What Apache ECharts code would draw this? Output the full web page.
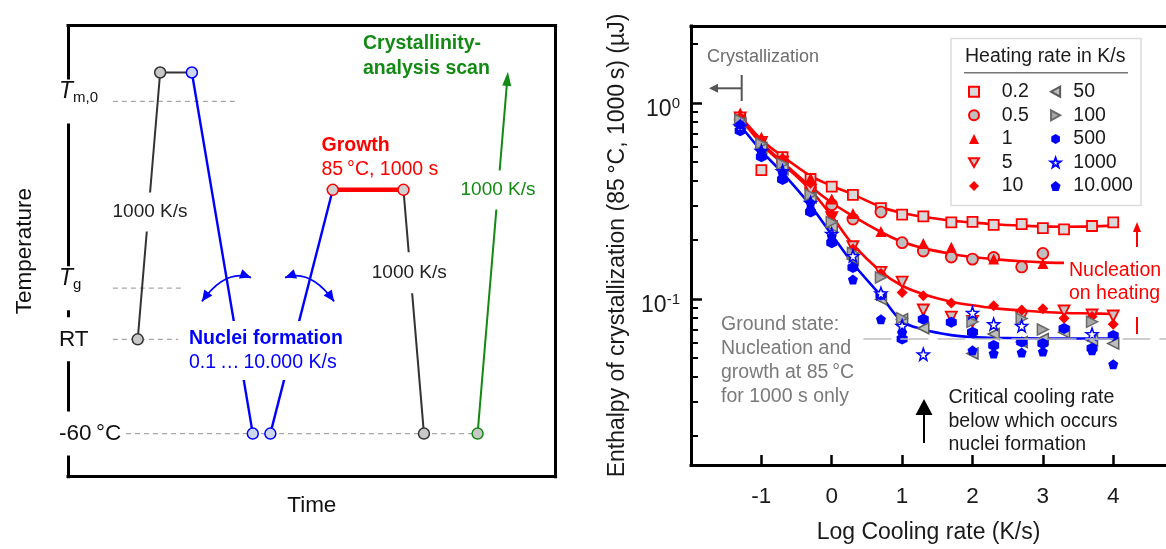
<!DOCTYPE html>
<html>
<head>
<meta charset="utf-8">
<title>Nucleation and crystallization</title>
<script src="https://cdn.jsdelivr.net/npm/echarts@6.0.0/dist/echarts.min.js"></script>
<style>
    html, body { margin: 0; padding: 0; background: #fff; }
    #chart { width: 1166px; height: 549px; }
</style>
</head>
<body>
<div id="chart"></div>
<script>
// ---- left panel: temperature program (schematic, arbitrary units 0..100) ----
var stepTime = [14.3, 18.9, 25.4, 37.9, 41.5, 54.3, 68.8, 73.0, 84.0, 90.1];
var stepTemp = [30.45, 89.6, 89.6, 9.55, 9.55, 63.6, 63.6, 9.55, 9.55, 88.2];
var levelTemp = [9.55, 30.45, 41.8, 83.2];
var levelLabels = ['-60\u2009°C', 'RT', 'T_g', 'T_m,0'];
var levelFrom = [11.9, 9.2, 9.2, 9.2];
var levelTo = [84.1, 22.6, 23.3, 34.7];

// ---- right panel: enthalpy (µJ) vs cooling rate (K/s) ----
var coolRates = [0.05, 0.1, 0.2, 0.5, 1, 2, 5, 10, 20, 50, 100, 200, 500, 1000, 2000, 5000, 10000];
var heatRates = ['0.2', '0.5', '1', '5', '10', '50', '100', '500', '1000', '10.000'];
var h0p2   = [0.83, 0.455, 0.53, 0.41, 0.375, 0.34, 0.291, 0.27, 0.264, 0.246, 0.248, 0.239, 0.241, 0.230, 0.227, 0.236, 0.246];
var h0p5   = [0.82, 0.60, 0.50, 0.37, 0.303, 0.256, 0.278, 0.194, 0.176, 0.164, 0.16, 0.163, 0.146, 0.171, null, null, null];
var h1     = [0.89, 0.67, 0.533, 0.415, 0.324, 0.273, 0.221, null, 0.192, 0.184, null, 0.16, null, 0.152, null, null, null];
var h5     = [0.84, 0.63, 0.50, 0.36, 0.26, 0.185, 0.137, 0.122, 0.088, 0.081, 0.077, null, 0.081, null, 0.087, 0.083, 0.082];
var h10    = [0.85, 0.65, 0.52, 0.39, 0.27, 0.18, 0.135, 0.108, 0.104, 0.0956, null, 0.0926, 0.088, 0.0892, 0.080, 0.0815, 0.0745];
var h50    = [0.79, 0.59, 0.46, 0.33, 0.235, 0.16, 0.10, 0.079, 0.071, null, 0.0528, 0.0664, 0.0604, 0.0626, 0.0677, 0.0617, 0.0593];
var h100   = [0.82, 0.62, 0.49, 0.34, 0.247, 0.172, 0.129, 0.08, null, null, 0.0766, null, 0.0796, 0.070, null, 0.0766, null];
var h500   = [0.723, 0.533, 0.408, 0.278, 0.194, 0.145, 0.105, 0.0626, 0.079, 0.0762, 0.0677, 0.058, 0.0604, 0.0593, 0.0708, 0.0562, 0.0652];
var h1000  = [0.76, 0.57, 0.45, 0.31, 0.215, 0.166, 0.107, 0.0731, 0.0523, null, 0.0852, 0.0745, 0.0731, null, null, 0.0664, null];
var h10000 = [0.78, 0.564, 0.44, 0.309, 0.209, 0.126, 0.079, 0.0677, null, null, 0.0548, 0.0528, 0.0535, 0.054, null, 0.0548, 0.0466];
// guide curves
var fitA = [0.86, 0.65, 0.535, 0.425, 0.378, 0.342, 0.295, 0.275, 0.263, 0.251, 0.246, 0.241, 0.237, 0.235, 0.234, 0.235, 0.237];
var fitB = [0.85, 0.63, 0.50, 0.375, 0.31, 0.265, 0.22, 0.196, 0.182, 0.17, 0.164, 0.16, 0.156, 0.154, 0.153, null, null];
var fitC = [0.84, 0.62, 0.49, 0.36, 0.265, 0.19, 0.138, 0.117, 0.106, 0.097, 0.093, 0.09, 0.0875, 0.086, 0.085, 0.0845, 0.084];
var fitD = [0.77, 0.57, 0.44, 0.30, 0.213, 0.152, 0.104, 0.077, 0.07, 0.0655, 0.064, 0.0635, 0.0632, 0.063, 0.063, 0.063, 0.063];
var groundState = 0.0626;
var xTicks = [-1, 0, 1, 2, 3, 4];
var yDecades = [-1, 0];
var yMinor = [0.02, 0.03, 0.04, 0.05, 0.06, 0.07, 0.08, 0.09, 0.2, 0.3, 0.4, 0.5, 0.6, 0.7, 0.8, 0.9, 2];

var FONT = '"Liberation Sans", Arial, sans-serif';
var RED = '#ff0000', BLUE = '#0000ff', DARK = '#333333', GREEN = '#138a13';
var LOGMIN = -1.846, LOGMAX = 0.393;

function pts(vals){
    let out = [];
    for(let i = 0, len = coolRates.length; i < len; i++){
        if(vals[i] != null){
            out.push([Math.log10(coolRates[i]), Math.log10(vals[i])]);
        }
    }
    return out;
}

function stepPts(idx, marks){
    return idx.map(function(k, j){
        let p = {value: [stepTime[k], stepTemp[k]]};
        if(!marks[j]) p.symbol = 'none';
        return p;
    });
}

function stepLine(name, idx, marks, color, width, fill){
    return {
        name: name, type: 'line', xAxisIndex: 0, yAxisIndex: 0,
        data: stepPts(idx, marks), symbol: 'circle', symbolSize: 11,
        lineStyle: {color: color, width: width},
        itemStyle: {color: fill, borderColor: color, borderWidth: 1.5},
        silent: true, z: 3
    };
}

function fitLine(vals, color){
    return {
        type: 'line', xAxisIndex: 2, yAxisIndex: 2, data: pts(vals), symbol: 'none',
        smooth: 0.35, lineStyle: {color: color, width: 2.6}, silent: true, z: 2
    };
}

function scat(name, vals, symbol, size, fill, border, bw){
    return {
        name: name, type: 'scatter', xAxisIndex: 2, yAxisIndex: 2, data: pts(vals),
        symbol: symbol, symbolSize: size,
        itemStyle: {color: fill, borderColor: border, borderWidth: bw, opacity: 1},
        silent: true, z: 3
    };
}

function head(tx, ty, dx, dy, len, w, color){
    let n = Math.sqrt(dx * dx + dy * dy);
    dx /= n; dy /= n;
    let bx = tx - dx * len, by = ty - dy * len;
    return {
        type: 'polygon', z: 6,
        shape: {points: [[tx, ty], [bx - dy * w / 2, by + dx * w / 2], [bx + dy * w / 2, by - dx * w / 2]]},
        style: {fill: color}
    };
}

function txt(x, y, text, size, color, extra){
    let st = {text: text, fontSize: size, fontFamily: FONT, fill: color, verticalAlign: 'middle', textVerticalAlign: 'middle'};
    for(let k in extra) st[k] = extra[k];
    return {type: 'text', x: x, y: y, z: 10, style: st};
}

var series = [];
// dashed temperature levels
for(let i = 0; i < levelTemp.length; i++){
    series.push({
        type: 'line', xAxisIndex: 0, yAxisIndex: 0, symbol: 'none', silent: true, z: 1,
        data: [[levelFrom[i], levelTemp[i]], [levelTo[i], levelTemp[i]]],
        lineStyle: {color: '#a8a8a8', width: 1.3, type: [5, 4]}
    });
}
series.push(stepLine('heat', [0, 1, 2], [1, 1, 0], DARK, 2, '#c8c8c8'));
series.push(stepLine('quench1', [2, 3], [1, 1], BLUE, 2.4, '#cfd8ea'));
series.push(stepLine('reheat', [4, 5], [1, 0], BLUE, 2.4, '#cfd8ea'));
series.push(stepLine('growth', [5, 6], [1, 1], RED, 4.5, '#d0d0d0'));
series.push(stepLine('quench2', [6, 7], [0, 1], DARK, 2, '#c8c8c8'));
var scan = stepLine('scan', [8, 9], [1, 1], GREEN, 2, '#c8c8c8');
scan.data[1].symbol = 'triangle';
scan.data[1].symbolSize = [9, 14];
scan.data[1].symbolRotate = -4.8;
scan.data[1].itemStyle = {color: GREEN, borderWidth: 0};
series.push(scan);

// guide curves
series.push(fitLine(fitA, RED));
series.push(fitLine(fitB, RED));
series.push(fitLine(fitC, RED));
var fd = fitLine(fitD, BLUE);
fd.markLine = {
    silent: true, symbol: 'none', label: {show: false},
    lineStyle: {color: '#bdbdbd', width: 1.5, type: [28, 9]},
    data: [[{coord: [0.45, Math.log10(groundState)]}, {coord: [4.75, Math.log10(groundState)]}]]
};
fd.z = 1;
series.push(fd);

var leftTri = 'path://M10,0L0,5.5L10,11Z';
var rightTri = 'path://M0,0L10,5.5L0,11Z';
var downTri = 'path://M0,0L12,0L6,10.5Z';
var hexagon = 'path://M5,0L10,2.9L10,8.7L5,11.6L0,8.7L0,2.9Z';
var pentagon = 'path://M5,0L10,3.8L8.1,10L1.9,10L0,3.8Z';
var star = 'path://M5,0L6.2,3.4L9.8,3.5L6.9,5.7L7.9,9.1L5,7.1L2.1,9.1L3.1,5.7L0.2,3.5L3.8,3.4Z';

series.push(scat('0.2', h0p2, 'rect', 10, '#d9d9d9', RED, 1.8));
series.push(scat('0.5', h0p5, 'circle', 11, '#bfbfbf', RED, 1.8));
series.push(scat('1', h1, 'triangle', 11, RED, RED, 0));
series.push(scat('5', h5, downTri, 11, '#c4c4c4', RED, 1.8));
series.push(scat('10', h10, 'diamond', 11, RED, RED, 0));
series.push(scat('50', h50, leftTri, 11, '#bdbdbd', '#5c5c5c', 1.5));
series.push(scat('100', h100, rightTri, 11, '#a8a8a8', '#6a6a6a', 1.5));
series.push(scat('500', h500, hexagon, 11, BLUE, BLUE, 0));
series.push(scat('1000', h1000, star, 12, '#ffffff', BLUE, 1.5));
series.push(scat('10.000', h10000, pentagon, 10, BLUE, BLUE, 0));

var frameLine = {onZero: false, lineStyle: {color: '#000', width: 3, cap: 'square'}};
var off = {show: false};

var option = {
    animation: false,
    textStyle: {fontFamily: FONT},
    grid: [
        {left: 68, top: 25.6, right: 610.4, bottom: 72.3},
        {left: 691, top: 26, right: 0, bottom: 73}
    ],
    xAxis: [
        {
            gridIndex: 0, type: 'value', min: 0, max: 100, axisLine: frameLine, axisTick: off,
            axisLabel: off, splitLine: off, name: 'Time', nameLocation: 'middle', nameGap: 18,
            nameTextStyle: {fontSize: 22.5, color: '#111', fontFamily: FONT}
        },
        {gridIndex: 0, type: 'value', position: 'top', min: 0, max: 1, axisLine: frameLine, axisTick: off, axisLabel: off, splitLine: off},
        {
            gridIndex: 1, type: 'value', min: -2, max: 4.75, axisLine: frameLine,
            axisTick: {inside: true, length: 10, lineStyle: {width: 2.5, color: '#000'}, customValues: xTicks},
            axisLabel: {customValues: xTicks, fontSize: 22.5, color: '#1a1a1a', margin: 20, fontFamily: FONT},
            splitLine: off, name: 'Log Cooling rate (K/s)', nameLocation: 'middle', nameGap: 56,
            nameTextStyle: {fontSize: 23, color: '#1a1a1a', fontFamily: FONT}
        },
        {gridIndex: 1, type: 'value', position: 'top', min: 0, max: 1, axisLine: frameLine, axisTick: off, axisLabel: off, splitLine: off}
    ],
    yAxis: [
        {
            gridIndex: 0, type: 'value', min: 0, max: 100, axisLine: frameLine, axisTick: off, splitLine: off,
            axisLabel: {
                customValues: levelTemp, align: 'left', margin: 11, backgroundColor: '#fff', padding: [1, 2],
                formatter: function(v){
                    let lab = levelLabels[levelTemp.indexOf(v)];
                    if(lab.indexOf('_') >= 0){
                        let parts = lab.split('_');
                        return '{t|' + parts[0] + '}{s|' + parts[1] + '}{z| }';
                    }
                    return '{n|' + lab + '}';
                },
                rich: {
                    n: {fontSize: 22.5, color: '#111', lineHeight: 42, fontFamily: FONT},
                    t: {fontSize: 23, fontStyle: 'italic', color: '#111', lineHeight: 24, verticalAlign: 'top', fontFamily: FONT},
                    s: {fontSize: 15, color: '#111', verticalAlign: 'top', padding: [10, 0, 0, 0], fontFamily: FONT},
                    z: {fontSize: 1, lineHeight: 42, fontFamily: FONT}
                }
            },
            name: 'Temperature', nameLocation: 'middle', nameGap: 32,
            nameTextStyle: {fontSize: 22.5, color: '#111', fontFamily: FONT}
        },
        {gridIndex: 0, type: 'value', position: 'right', min: 0, max: 1, axisLine: frameLine, axisTick: off, axisLabel: off, splitLine: off},
        {
            gridIndex: 1, type: 'value', min: LOGMIN, max: LOGMAX, axisLine: frameLine, splitLine: off,
            axisTick: {inside: true, length: 11, lineStyle: {width: 2.5, color: '#000'}, customValues: yDecades},
            axisLabel: {
                customValues: yDecades, margin: 11, padding: [14, 0, 0, 0],
                formatter: function(v){ return '{b|10}{s|' + v + '}'; },
                rich: {
                    b: {fontSize: 23, color: '#1a1a1a', lineHeight: 28, fontFamily: FONT},
                    s: {fontSize: 15, color: '#1a1a1a', verticalAlign: 'top', lineHeight: 16, fontFamily: FONT}
                }
            },
            name: 'Enthalpy of crystallization (85\u2009°C, 1000\u2009s) (µJ)', nameLocation: 'middle', nameGap: 62,
            nameTextStyle: {fontSize: 23, color: '#1a1a1a', fontFamily: FONT}
        },
        {
            gridIndex: 1, type: 'value', position: 'left', min: LOGMIN, max: LOGMAX, axisLine: {show: false, onZero: false}, splitLine: off,
            axisTick: {inside: true, length: 7, lineStyle: {width: 2, color: '#000'}, customValues: yMinor.map(Math.log10)},
            axisLabel: off
        }
    ],
    legend: {
        orient: 'vertical', left: 968, top: 81.7, height: 118, padding: 0,
        itemWidth: 10, itemHeight: 10, itemGap: 3.6, selectedMode: false,
        textStyle: {fontSize: 19.5, color: '#1a1a1a', lineHeight: 20, fontFamily: FONT},
        data: heatRates.map(function(n, i){
            return {name: n, textStyle: i < 5 ? {padding: [0, 0, 0, 17.7], width: 44.3} : {padding: [0, 0, 0, 7.7], width: 70}};
        })
    },
    graphic: [
        // left panel annotations
        txt(363, 56, 'Crystallinity-\nanalysis scan', 19.5, GREEN, {fontWeight: 'bold', lineHeight: 25}),
        txt(321.5, 145.5, 'Growth', 19.5, RED, {fontWeight: 'bold'}),
        txt(321.5, 170, '85\u2009°C, 1000 s', 19.5, RED, {}),
        {
            type: 'text', x: 185, y: 320.9, z: 10,
            style: {
                text: '{b|Nuclei formation}\n{n|0.1\u2009…\u200910.000 K/s}',
                backgroundColor: '#fff', padding: [5, 4],
                rich: {
                    b: {fontWeight: 'bold', fontSize: 19.5, fill: BLUE, lineHeight: 24.6, fontFamily: FONT},
                    n: {fontSize: 19.5, fill: BLUE, lineHeight: 24.6, fontFamily: FONT}
                }
            }
        },
        txt(150, 212, '1000 K/s', 19, '#222', {align: 'center', textAlign: 'center', backgroundColor: '#fff', padding: [10, 2]}),
        txt(409.3, 272.7, '1000 K/s', 19, '#222', {align: 'center', textAlign: 'center', backgroundColor: '#fff', padding: [11, 2]}),
        txt(498, 190, '1000 K/s', 19, GREEN, {align: 'center', textAlign: 'center', backgroundColor: '#fff', padding: [10, 2]}),
        {type: 'bezierCurve', z: 5, shape: {x1: 201.9, y1: 301.4, cpx1: 225.6, cpy1: 268.5, x2: 251, y2: 277.6}, style: {stroke: BLUE, lineWidth: 1.8, fill: null}},
        head(201.9, 301.4, -23.7, 32.9, 11, 10, BLUE),
        head(251, 277.6, 25.4, 9.1, 11, 10, BLUE),
        {type: 'bezierCurve', z: 5, shape: {x1: 285, y1: 277.6, cpx1: 310.4, cpy1: 268.5, x2: 334.1, y2: 301.4}, style: {stroke: BLUE, lineWidth: 1.8, fill: null}},
        head(285, 277.6, -25.4, 9.1, 11, 10, BLUE),
        head(334.1, 301.4, 23.7, 32.9, 11, 10, BLUE),

        // right panel legend frame and title
        {type: 'rect', z: 0, shape: {x: 951, y: 38.5, width: 190, height: 167}, style: {fill: '#fff', stroke: '#dcdcdc', lineWidth: 1.5}},
        txt(965, 56.7, 'Heating rate in K/s', 19.5, '#1a1a1a', {}),
        {type: 'line', z: 5, shape: {x1: 964, y1: 72.7, x2: 1128, y2: 72.7}, style: {stroke: '#777', lineWidth: 1.5}},

        // right panel annotations
        txt(707, 57, 'Crystallization', 18, '#6e6e6e', {}),
        {type: 'line', z: 5, shape: {x1: 741.7, y1: 88.3, x2: 716, y2: 88.3}, style: {stroke: '#555', lineWidth: 2}},
        {type: 'line', z: 5, shape: {x1: 741.7, y1: 75, x2: 741.7, y2: 101}, style: {stroke: '#555', lineWidth: 2}},
        head(709, 88.3, -1, 0, 9, 9, '#555'),
        {type: 'text', x: 721, y: 313.1, z: 10, style: {text: 'Ground state:\nNucleation and\ngrowth at 85\u2009°C\nfor 1000 s only', fontSize: 19.5, lineHeight: 23.8, fill: '#7a7a7a', fontFamily: FONT}},
        {type: 'text', x: 948.5, y: 385.5, z: 10, style: {text: 'Critical cooling rate\nbelow which occurs\nnuclei formation', fontSize: 19.5, lineHeight: 23.8, fill: '#1a1a1a', fontFamily: FONT}},
        {type: 'line', z: 5, shape: {x1: 924, y1: 443, x2: 924, y2: 410}, style: {stroke: '#000', lineWidth: 2}},
        head(924, 399, 0, -1, 16, 17, '#000'),
        {type: 'text', x: 1069, y: 258.5, z: 10, style: {text: 'Nucleation\non heating', fontSize: 19.5, lineHeight: 23.3, fill: RED, fontFamily: FONT}},
        {type: 'line', z: 5, shape: {x1: 1137, y1: 247, x2: 1137, y2: 229}, style: {stroke: RED, lineWidth: 2}},
        head(1137, 222, 0, -1, 10, 8, RED),
        {type: 'line', z: 5, shape: {x1: 1137, y1: 317, x2: 1137, y2: 334}, style: {stroke: RED, lineWidth: 2}}
    ],
    series: series
};

var myChart = echarts.init(document.getElementById('chart'));
myChart.setOption(option);
</script>
</body>
</html>
